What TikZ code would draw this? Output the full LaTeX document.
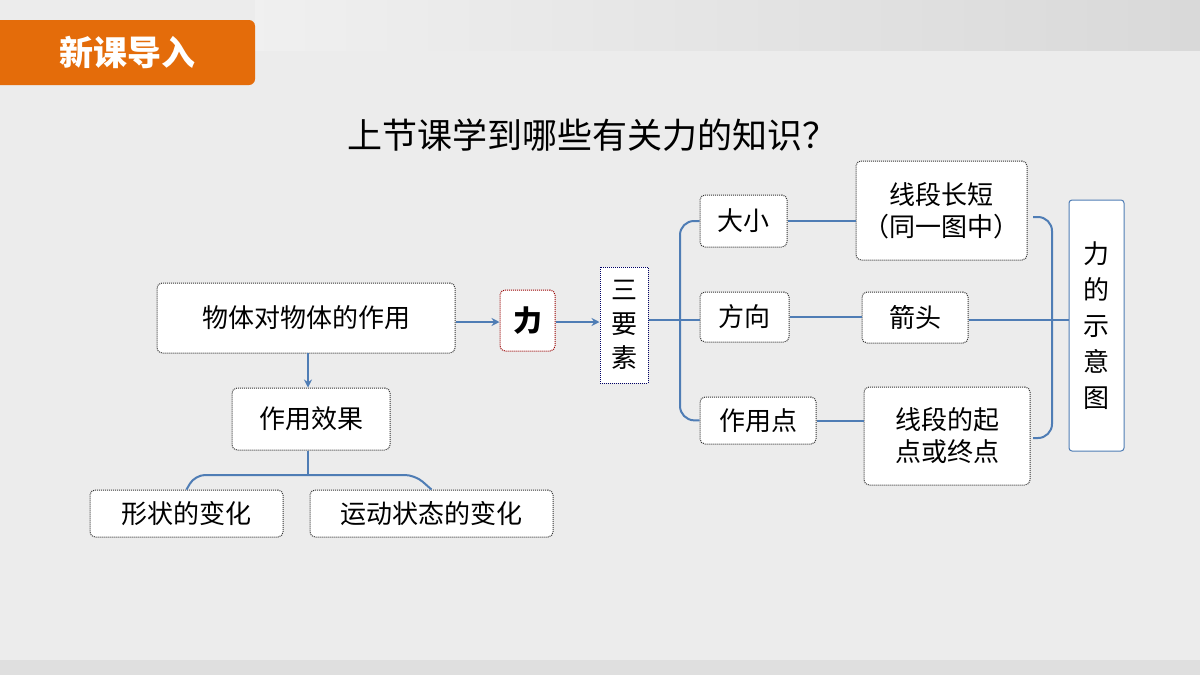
\documentclass[tikz,border=0pt]{standalone}
\usepackage{fontspec}
\setmainfont{Noto Sans CJK SC}
\usetikzlibrary{arrows.meta}
\definecolor{bl}{HTML}{4F7DB5}
\definecolor{org}{HTML}{E46C0A}
\tikzset{
 bx/.style={draw=black!80,densely dotted,line width=1pt,fill=white,rounded corners=5pt,inner sep=0pt,align=center,font=\fontsize{26}{32}\selectfont},
 cn/.style={draw=bl,line width=2pt},
 ar/.style={cn,-{Stealth[length=8pt,width=8pt]}}
}
\begin{document}
\begin{tikzpicture}[x=1pt,y=-1pt]
\useasboundingbox (0,0) rectangle (1200,675);
\fill[gray!15] (0,0) rectangle (1200,675);
\shade[left color=gray!12,right color=gray!30] (255,0) rectangle (1200,50);
\fill[gray!25] (0,660) rectangle (1200,675);
\fill[org,rounded corners=6pt] (-10,20) rectangle (255,85);
\node[text=white,font=\fontsize{34}{38}\selectfont\bfseries] (hd) at (127,52) {新课导入};
\node[font=\fontsize{35}{40}\selectfont] (tt) at (592,135) {上节课学到哪些有关力的知识？};
\def\B#1#2#3#4#5#6{\node[bx,minimum width=#4-#2,minimum height=#5-#3,#6] (#1) at ({(#2+#4)/2},{(#3+#5)/2})}
\B{a}{157}{283}{455}{353}{}{物体对物体的作用};
\B{b}{232}{388}{390}{450}{}{作用效果};
\B{c}{90}{490}{283}{537}{}{形状的变化};
\B{d}{310}{490}{553}{537}{}{运动状态的变化};
\B{f}{500}{290}{555}{351}{draw=red!60!black,font=\fontsize{29}{32}\selectfont\bfseries}{力};
\B{s}{600}{267}{648}{383}{rounded corners=0pt,draw=blue!40!black,font=\fontsize{26}{34}\selectfont}{三\\要\\素};
\B{s1}{700}{195}{787}{247}{}{大小};
\B{s2}{700}{292}{789}{342}{}{方向};
\B{s3}{700}{397}{816}{444}{}{作用点};
\B{t1}{856}{161}{1027}{260}{}{线段长短\\（同一图中）};
\B{t2}{862}{292}{968}{343}{}{箭头};
\B{t3}{864}{387}{1030}{485}{}{线段的起\\点或终点};
\B{r}{1069}{200}{1124}{451}{draw=bl,fill=white,rounded corners=3pt,solid,font=\fontsize{26}{36}\selectfont}{力\\的\\示\\意\\图};
\coordinate (p1) at (308,353);
\coordinate (p2) at (308,475);
\draw[ar] (a.east|-0,322) -- (f.west|-0,322);
\draw[ar] (f.east|-0,322) -- (s.west|-0,322);
\draw[ar] (p1) -- (p1|-b.north);
\draw[cn,rounded corners=10pt] (c.north) -- (195,475) -- (415,475) -- (d.north);
\draw[cn] (p1|-b.south) -- (p2);
\draw[cn] (s.east|-0,320) -- (s2.west|-0,320);
\draw[cn,rounded corners=14pt] (s1.west) -- (680,221) -- (680,420) -- (s3.west);
\draw[cn] (s1.east) -- (t1.west|-s1.east);
\draw[cn] (s2.east|-0,317) -- (t2.west|-0,317);
\draw[cn] (s3.east) -- (t3.west|-s3.east);
\draw[cn] (t2.east|-0,320) -- (r.west|-0,320);
\draw[cn,rounded corners=14pt] (1033,217) -- (1052,217) -- (1052,438) -- (1033,438);
\end{tikzpicture}
\end{document}
